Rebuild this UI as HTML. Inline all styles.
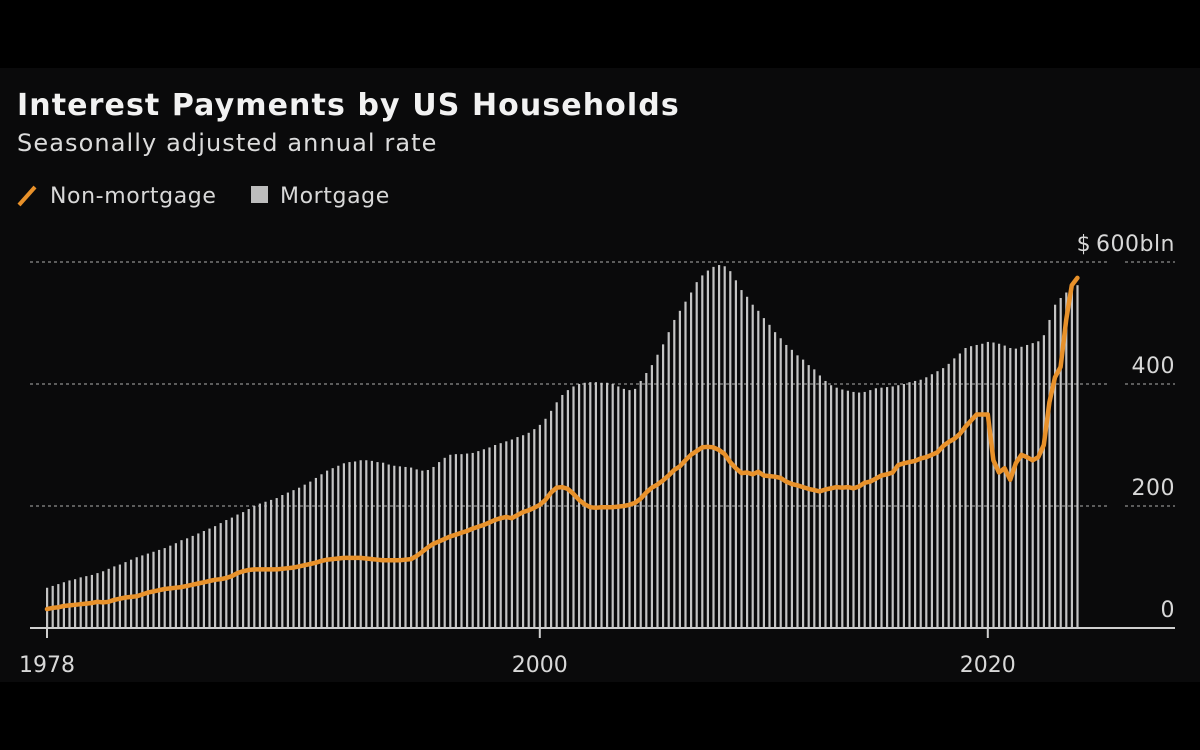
<!DOCTYPE html>
<html><head><meta charset="utf-8">
<style>
html,body{margin:0;padding:0;background:#000;}
#wrap{position:relative;width:1200px;height:750px;background:#000;overflow:hidden;font-family:"DejaVu Sans","Liberation Sans",sans-serif;}
#panel{position:absolute;left:0;top:68px;width:1200px;height:614px;background:#0a0a0b;}
svg{position:absolute;left:0;top:0;}
</style></head>
<body>
<div id="wrap">
<div id="panel"></div>
<svg id="chart" width="1200" height="750">
<text x="17" y="115" fill="#f2f2f2" font-size="30" font-weight="bold" letter-spacing="1.1">Interest Payments by US Households</text>
<text x="17" y="151" fill="#dcdcdc" font-size="24" letter-spacing="1.1">Seasonally adjusted annual rate</text>
<g>
<line x1="19" y1="205" x2="35" y2="187" stroke="#e8912a" stroke-width="4"/>
<text x="50" y="203" fill="#d8d8d8" font-size="22" letter-spacing="0.6">Non-mortgage</text>
<rect x="251" y="186" width="17" height="17" fill="#bdbdbd"/>
<text x="280" y="203" fill="#d8d8d8" font-size="22" letter-spacing="0.6">Mortgage</text>
</g>
<g id="grid"></g>
<g id="bars"></g>
<g id="axis"></g>
<g id="line"></g>
</svg>
</div>
<script>
const startYear = 1978;
const mortgage = [
66,69,72,75, 78,80,83,85, 87,90,93,97, 101,104,108,112, 116,119,122,125, 128,131,135,139,
144,147,151,155, 159,163,167,172, 177,181,186,190, 195,200,204,207, 210,213,218,222,
226,230,235,240, 246,252,258,262, 266,270,272,273, 275,275,274,272, 271,268,266,265,
264,263,260,258, 259,264,272,279, 284,285,285,286, 287,290,293,296, 300,303,306,309,
313,316,320,326, 333,343,356,370, 382,390,396,400, 402,403,403,402, 402,400,396,392,
390,392,405,418, 431,448,465,485, 505,520,535,550, 567,578,586,592, 595,593,585,570,
554,543,530,520, 508,497,485,475, 464,456,447,440, 431,424,414,405, 398,394,391,389,
387,386,387,390, 393,394,395,396, 398,400,403,405, 407,411,416,421, 426,433,442,450,
459,462,464,466, 469,468,466,463, 459,458,461,464, 467,470,480,505, 530,541,550,556, 562];
const nonMortgage = [
31,33,34,36, 37,38,39,40, 41,43,42,43, 46,48,50,51, 52,55,58,60, 62,64,65,66,
67,69,71,73, 75,77,79,80, 82,85,90,93, 95,96,96,96, 96,96,97,98, 99,101,103,105,
107,110,112,113, 114,115,115,115, 115,114,113,112, 111,111,111,111, 112,113,118,125,
132,138,142,146, 150,153,156,159, 163,166,169,173, 177,180,182,180, 185,190,193,197,
202,210,222,230, 231,228,220,210, 203,198,197,198, 198,198,199,200, 202,205,212,222,
230,235,242,250, 259,265,275,284, 290,296,297,296, 292,285,272,262, 254,255,252,256,
250,249,248,246, 240,236,234,231, 228,226,224,227, 229,231,230,231, 229,232,238,240,
245,250,252,255, 267,270,272,274, 278,280,284,288, 298,305,310,318, 330,340,350,350,
350,275,255,262, 243,270,284,280, 275,280,300,370, 411,428,505,562, 574];
const yTicks = [0,200,400,600];
const yTickLabels = ["0","200","400","$\u2009600bln"];
const xTicks = [1978,2000,2020];
const xTickLabels = ["1978","2000","2020"];

const X0 = 47, PX_PER_YEAR = 22.4, Y0 = 628, PX_PER_UNIT = 0.61;
function xScale(t){ return X0 + (t - startYear) * PX_PER_YEAR; }
function yScale(v){ return Y0 - v * PX_PER_UNIT; }
const NS = "http://www.w3.org/2000/svg";
function mk(tag, attrs, parent){ const e=document.createElementNS(NS,tag); for(const k in attrs) e.setAttribute(k,attrs[k]); parent.appendChild(e); return e; }

const grid = document.getElementById('grid');
const axis = document.getElementById('axis');
yTicks.forEach((v,i)=>{
  if (v > 0) {
    const g1 = mk('line',{x1:30,x2:1108,y1:yScale(v),y2:yScale(v),stroke:'#777',"stroke-width":1.5,"stroke-dasharray":"3,3"},grid);
    
    
    const g2 = mk('line',{x1:1125,x2:1175,y1:yScale(v),y2:yScale(v),stroke:'#777',"stroke-width":1.5,"stroke-dasharray":"3,3"},grid);
    
    
  }
  const t = mk('text',{x:1175,y:yScale(v)-11,fill:'#d8d8d8',"font-size":22,"text-anchor":"end","letter-spacing":0.5},axis);
  t.textContent = yTickLabels[i];
  
  
});

const bars = document.getElementById('bars');
mortgage.forEach((v,i)=>{
  const x = xScale(startYear + i/4);
  const r = mk('rect',{x:x-1,y:yScale(v),width:2.2,height:Y0-yScale(v),fill:'#c4c4c4'},bars);
  
  
});

const base = mk('line',{x1:30,x2:1175,y1:Y0,y2:Y0,stroke:'#cfcfcf',"stroke-width":2},axis);


xTicks.forEach((yr,i)=>{
  const x = xScale(yr);
  const tk = mk('line',{x1:x,x2:x,y1:Y0,y2:Y0+10,stroke:'#cfcfcf',"stroke-width":2},axis);
  
  
  const t = mk('text',{x:x,y:672,fill:'#d8d8d8',"font-size":22,"text-anchor":"middle"},axis);
  t.textContent = xTickLabels[i];
  
  
});

const pts = nonMortgage.map((v,i)=> xScale(startYear + i/4).toFixed(1)+','+yScale(v).toFixed(1)).join(' ');
const pl = mk('polyline',{points:pts,fill:'none',stroke:'#e8912a',"stroke-width":4.5,"stroke-linejoin":"round","stroke-linecap":"round"},document.getElementById('line'));


</script>
</body></html>
